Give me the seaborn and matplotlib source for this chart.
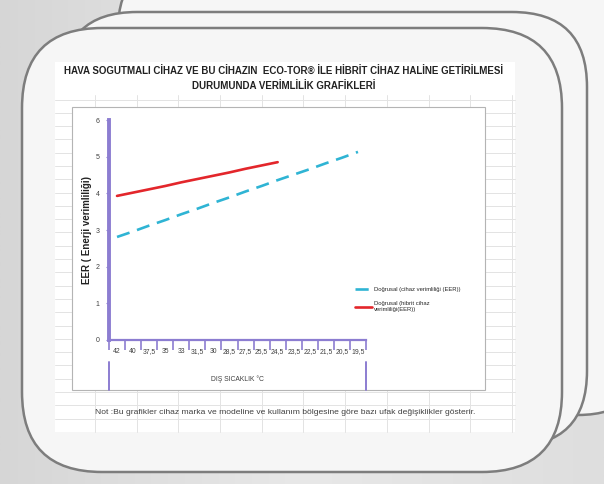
import matplotlib
matplotlib.use("Agg")
import matplotlib.pyplot as plt
import numpy as np
import pandas as pd
import seaborn as sns
from matplotlib.patches import FancyBboxPatch, Rectangle

# data (Excel linear trendlines)
sicaklik = ['42', '40', '37,5', '35', '33', '31,5', '30', '28,5', '27,5',
            '25,5', '24,5', '23,5', '22,5', '21,5', '20,5', '19,5']
cihaz_eer = [2.81, 2.96, 3.12, 3.27, 3.43, 3.58, 3.74, 3.89, 4.05, 4.20,
             4.36, 4.51, 4.66, 4.82, 4.97, 5.13]
hibrit_eer = [3.93, 4.02, 4.11, 4.20, 4.30, 4.39, 4.48, 4.57, 4.67, 4.76, 4.85]

seri_cihaz = 'Doğrusal (cihaz verimliliği (EER))'
seri_hibrit = 'Doğrusal (hibrit cihaz\nverimliliği(EER))'

df = pd.concat([
    pd.DataFrame({'sicaklik': sicaklik, 'eer': cihaz_eer, 'seri': seri_cihaz}),
    pd.DataFrame({'sicaklik': sicaklik[:len(hibrit_eer)], 'eer': hibrit_eer, 'seri': seri_hibrit}),
])
df['pos'] = [sicaklik.index(s) for s in df['sicaklik']]

sns.set_style('white')
plt.rcParams['font.family'] = ['Liberation Sans', 'DejaVu Sans']

W, H = 604, 484
fig = plt.figure(figsize=(W / 100, H / 100), dpi=100)

# background, cards and spreadsheet in pixel coordinates
bg = fig.add_axes([0, 0, 1, 1])
bg.set_xlim(0, W)
bg.set_ylim(H, 0)
bg.axis('off')
grad = np.linspace(0, 1, 256)[None, :]
bg.imshow(grad, extent=[0, W, H, 0], cmap=matplotlib.colors.LinearSegmentedColormap.from_list(
    'g', ['#d6d6d6', '#e8e8e8', '#dedede']), aspect='auto', zorder=0)

cards = [((118, -40, 530, 455), 70), ((62, 12, 525, 434), 75), ((22, 28, 540, 444), 80)]
for (x, y, w, h), r in cards:
    bg.add_patch(FancyBboxPatch((x, y), w, h, boxstyle=f'round,pad=0,rounding_size={r}',
                                facecolor='#f6f6f6', edgecolor='#7d7d7d', lw=1.8, zorder=1))

# sheet with cell grid
bg.add_patch(Rectangle((55, 62), 460, 370, facecolor='white', edgecolor='none', zorder=2))
for gx in np.arange(95, 515, 41.7):
    bg.plot([gx, gx], [95, 432], color='#e3e3e3', lw=0.7, zorder=3)
for gy in np.arange(99.5, 432, 13.3):
    bg.plot([55, 515], [gy, gy], color='#e3e3e3', lw=0.7, zorder=3)

bg.text(284, 72, 'HAVA SOGUTMALI CİHAZ VE BU CİHAZIN  ECO-TOR® İLE HİBRİT CİHAZ HALİNE GETİRİLMESİ',
        ha='center', va='center', fontsize=7.0, fontweight='bold', color='#222222', zorder=5)
bg.text(284, 86, 'DURUMUNDA VERİMLİLİK GRAFİKLERİ', ha='center', va='center',
        fontsize=7.0, fontweight='bold', color='#222222', zorder=5)

# chart box
bg.add_patch(Rectangle((72, 107), 413, 283, facecolor='white', edgecolor='#b4b4b4', lw=0.8, zorder=4))

bg.text(285, 413, 'Not :Bu grafikler cihaz marka ve modeline ve kullanım bölgesine göre bazı ufak değişiklikler gösterir.',
        ha='center', va='center', fontsize=6.1, color='#404040', zorder=5)

# main axes
left, right, top, bottom = 109, 366, 120, 340
ax = fig.add_axes([left / W, 1 - bottom / H, (right - left) / W, (bottom - top) / H])
ax.set_facecolor('none')
sns.lineplot(data=df, x='pos', y='eer', hue='seri', style='seri',
             palette={seri_cihaz: '#2fb4d4', seri_hibrit: '#e3262b'},
             dashes={seri_cihaz: (5, 3), seri_hibrit: ''},
             linewidth=1.9, estimator=None, ax=ax)

axis_col = '#8c7dd1'
ax.set_xlim(-0.5, len(sicaklik) - 0.5)
ax.set_ylim(0, 6)
for s in ['top', 'right']:
    ax.spines[s].set_visible(False)
ax.spines['left'].set_color(axis_col)
ax.spines['left'].set_linewidth(2.8)
ax.spines['bottom'].set_color(axis_col)
ax.spines['bottom'].set_linewidth(1.6)

ax.set_yticks(range(0, 7))
ax.tick_params(axis='y', labelsize=5, labelcolor='#404040', color=axis_col,
               length=2, width=0.8, direction='out', pad=5, left=True)
ax.set_xticks(np.arange(-0.5, len(sicaklik), 1))
ax.set_xticklabels([])
ax.tick_params(axis='x', which='major', color=axis_col, length=7, width=1.2,
               direction='out', bottom=True)
ax.set_xticks(range(len(sicaklik)), minor=True)
ax.set_xticklabels(sicaklik, minor=True)
ax.tick_params(axis='x', which='minor', length=0, labelsize=4.9, labelcolor='#404040', pad=6)

# second level category ticks
for xb in [-0.5, len(sicaklik) - 0.5]:
    ax.plot([xb, xb], [-0.10, -0.225], color=axis_col, lw=1.4,
            transform=ax.get_xaxis_transform(), clip_on=False)
ax.set_xlabel('')
ax.text(0.5, -0.18, 'DIŞ SICAKLIK °C', transform=ax.transAxes, ha='center', va='center',
        fontsize=4.9, color='#404040')
ax.set_ylabel('EER ( Enerji verimliliği)', fontsize=7, fontweight='bold', color='#222222', labelpad=2)

ax.legend(loc='upper left', bbox_to_anchor=(352 / W, 1 - 284 / H), bbox_transform=fig.transFigure,
          frameon=False, fontsize=4.2, handlelength=3.0, handletextpad=0.2, labelspacing=1.6,
          borderpad=0, title=None)

fig.savefig('out.png', dpi=100)
